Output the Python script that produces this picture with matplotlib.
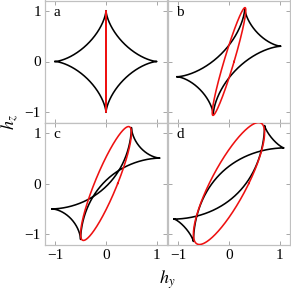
import numpy as np
import matplotlib
matplotlib.use("Agg")
import matplotlib.pyplot as plt

plt.rcParams['font.family'] = ['Liberation Serif', 'DejaVu Serif']
plt.rcParams['mathtext.fontset'] = 'stix'

# panel data
panel_labels = ['a', 'b', 'c', 'd']
# cusps of the switching curve (left = -right, bottom = -top)
cusp_right = [(1.00, 0.00), (1.02, 0.30), (1.06, 0.50), (1.08, 0.70)]
cusp_top = [(0.00, 1.00), (0.31, 1.04), (0.50, 1.10), (0.70, 1.14)]
# arc exponents between cusps (3 = plain astroid)
long_power = [3.0, 3.1, 3.5, 3.6]
tip_power = [3.0, 3.0, 3.2, 2.6]
# red field trajectory: hy = Ay sin(t + phi), hz = Az sin(t)
ellipse_amp_y = [0.00, 0.33, 0.50, 0.70]
ellipse_amp_z = [1.00, 1.06, 1.12, 1.20]
ellipse_phase = [0.00, 0.31, 0.48, 0.59]

tick_vals = [-1, 0, 1]
tick_text = ['\u22121', '0', '1']
lim = 1.2


def arc(h, v, p, n=300):
    # arc from cusp h (horizontal tangent) to cusp v (vertical tangent)
    h = np.asarray(h)
    v = np.asarray(v)
    c = np.array([v[0], h[1]])
    s = np.linspace(0, np.pi / 2, n)
    pts = c[:, None] + np.outer(h - c, np.cos(s) ** p) + np.outer(v - c, np.sin(s) ** p)
    return pts


def switching_curve(r, tp, p_long, p_tip):
    r = np.asarray(r)
    tp = np.asarray(tp)
    l, b = -r, -tp
    parts = [arc(l, tp, p_long), arc(r, tp, p_tip)[:, ::-1],
             arc(r, b, p_long), arc(l, b, p_tip)[:, ::-1]]
    return np.hstack(parts)


W = H = 291.0
fig = plt.figure(figsize=(2.91, 2.91), dpi=100)

boxes = [(45, 0.5), (168, 0.5), (45, 122.5), (168, 122.5)]
size = 122.0

t = np.linspace(0, 2 * np.pi, 1000)
frame_col = '#c0c0c0'

for i, (x0, y0) in enumerate(boxes):
    ax = fig.add_axes([x0 / W, 1 - (y0 + size) / H, size / W, size / H])
    hy, hz = switching_curve(cusp_right[i], cusp_top[i], long_power[i], tip_power[i])
    ax.plot(hy, hz, color='black', lw=1.15, zorder=2)

    ey = ellipse_amp_y[i] * np.sin(t + ellipse_phase[i])
    ez = ellipse_amp_z[i] * np.sin(t)
    ax.plot(ey, ez, color='#ee1111', lw=1.15, zorder=3)

    ax.set_xlim(-lim, lim)
    ax.set_ylim(-lim, lim)
    ax.set_xticks(tick_vals)
    ax.set_yticks(tick_vals)
    ax.tick_params(direction='in', length=3, width=0.6, color='#999999',
                   top=True, right=True, labelsize=11, pad=3)
    if i % 2 == 0:
        ax.set_yticklabels(tick_text)
    else:
        ax.set_yticklabels([])
    if i >= 2:
        ax.set_xticklabels(tick_text)
    else:
        ax.set_xticklabels([])
    for s in ax.spines.values():
        s.set_color(frame_col)
        s.set_linewidth(0.9)
    ax.text(0.1, 0.9, panel_labels[i], transform=ax.transAxes,
            fontsize=11, ha='center', va='center')

fig.text(167 / W, 1 - 280 / H, r'$h_y$', fontsize=13, ha='center', va='center')
fig.text(10 / W, 1 - 122 / H, r'$h_z$', fontsize=13, ha='center', va='center',
         rotation=90)

fig.savefig('out.png', dpi=100)
